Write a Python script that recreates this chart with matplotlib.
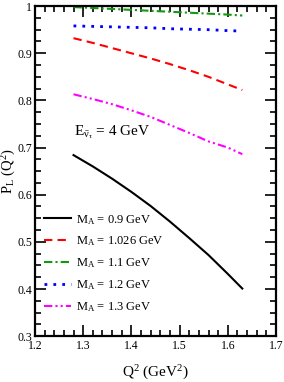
import matplotlib
matplotlib.use("Agg")

import numpy as np
import matplotlib.pyplot as plt
import matplotlib.ticker as ticker

# ── Data ─────────────────────────────────────────────────────────────────────
Q2 = [1.28, 1.32, 1.36, 1.40, 1.44, 1.48, 1.52, 1.56, 1.60, 1.63]

PL_090 = [0.684, 0.660, 0.634, 0.606, 0.576, 0.543, 0.508, 0.472, 0.432, 0.401]
PL_1026 = [0.932, 0.922, 0.911, 0.900, 0.889, 0.877, 0.864, 0.850, 0.834, 0.822]
PL_110 = [0.998, 0.996, 0.994, 0.992, 0.990, 0.988, 0.986, 0.984, 0.982, 0.980]
PL_120 = [0.958, 0.957, 0.956, 0.955, 0.954, 0.952, 0.951, 0.950, 0.948, 0.947]
PL_130 = [0.813, 0.803, 0.792, 0.779, 0.765, 0.748, 0.731, 0.713, 0.700, 0.686]

LABELS = [r"$\mathrm{M_A}$ = 0.9 GeV", r"$\mathrm{M_A}$ = 1.026 GeV",
          r"$\mathrm{M_A}$ = 1.1 GeV", r"$\mathrm{M_A}$ = 1.2 GeV",
          r"$\mathrm{M_A}$ = 1.3 GeV"]

# ── Style ────────────────────────────────────────────────────────────────────
plt.rcParams["font.family"] = ["Liberation Serif", "DejaVu Serif"]
plt.rcParams["mathtext.fontset"] = "custom"
plt.rcParams["mathtext.rm"] = "Liberation Serif"
plt.rcParams["mathtext.it"] = "Liberation Serif"

fig = plt.figure(figsize=(2.84, 3.82), dpi=100)
ax = fig.add_axes([0.123, 0.120, 0.849, 0.864])

LW = 1.5
ax.plot(Q2, PL_090, color="black", lw=LW, ls="-", label=LABELS[0])
ax.plot(Q2, PL_1026, color="red", lw=LW, ls=(0, (4, 2.5)), label=LABELS[1])
ax.plot(Q2, PL_110, color="#119911", lw=LW, ls=(0, (4, 1.5, 1, 1.5)), label=LABELS[2])
ax.plot(Q2, PL_120, color="blue", lw=LW + 0.5, ls=(0, (1, 2.2)), label=LABELS[3])
ax.plot(Q2, PL_130, color="magenta", lw=LW, ls=(0, (4, 1.5, 1, 1.5, 1, 1.5)), label=LABELS[4])

ax.set_xlim(1.2, 1.7)
ax.set_ylim(0.3, 1.0)
ax.xaxis.set_major_locator(ticker.MultipleLocator(0.1))
ax.xaxis.set_minor_locator(ticker.AutoMinorLocator(5))
ax.yaxis.set_major_locator(ticker.MultipleLocator(0.1))
ax.yaxis.set_minor_locator(ticker.AutoMinorLocator(4))
ax.xaxis.set_major_formatter(ticker.FuncFormatter(lambda v, p: f"{v:g}"))
ax.yaxis.set_major_formatter(ticker.FuncFormatter(lambda v, p: f"{v:g}"))

ax.tick_params(which="both", direction="in", top=True, right=True,
               labelsize=8.5, width=1.2)
ax.tick_params(axis="x", pad=3)
ax.tick_params(axis="y", pad=2)
ax.tick_params(which="major", length=8)
ax.tick_params(which="minor", length=4)
for s in ax.spines.values():
    s.set_linewidth(1.6)

ax.set_xlabel(r"$\mathrm{Q^2\ (GeV^2)}$", fontsize=11)
ax.xaxis.set_label_coords(0.5, -0.085)
ax.set_ylabel(r"$\mathrm{P_L\ (Q^2)}$", fontsize=10.5)
ax.yaxis.set_label_coords(-0.07, 0.5)

ax.text(1.28, 0.725, r"$\mathrm{E_{\bar{\nu}_\tau}}$ = 4 GeV", fontsize=11)

ax.legend(loc="lower left", frameon=False, fontsize=9, handlelength=2.2,
          handletextpad=0.4, labelspacing=0.65, borderaxespad=0.3,
          bbox_to_anchor=(0.0, 0.04))

plt.savefig("out.png", dpi=100)
plt.close(fig)
